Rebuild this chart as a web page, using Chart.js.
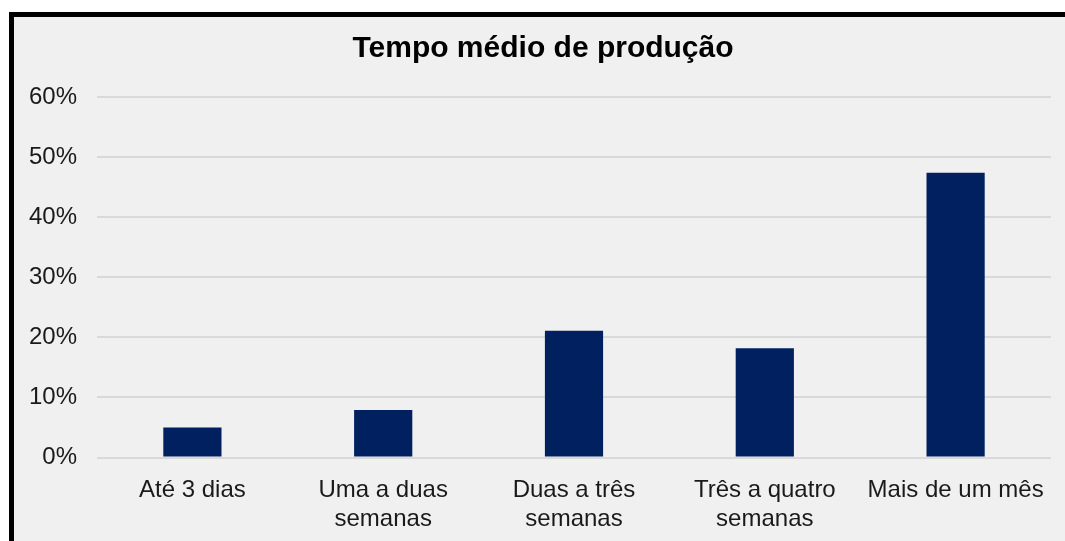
<!DOCTYPE html>
<html>
<head>
<meta charset="utf-8">
<script src="https://cdn.jsdelivr.net/npm/chart.js@4/dist/chart.umd.min.js"></script>
<style>
  html, body { margin: 0; padding: 0; background: #fff; overflow: hidden; width: 1065px; height: 541px; }
  .box {
    position: absolute; left: 9px; top: 12px;
    width: 1058px; height: 540px;
    border: 5px solid #000; border-right: none; border-bottom: none;
    background: #f0f0f0;
  }
  canvas { display: block; }
</style>
</head>
<body>
<div class="box"><canvas id="chart" width="1058" height="524"></canvas></div>
<script>
// Tempo médio de produção (% de respostas)
const chartTitle = 'Tempo médio de produção';
const categories = [
  ['Até 3 dias'],
  ['Uma a duas', 'semanas'],
  ['Duas a três', 'semanas'],
  ['Três a quatro', 'semanas'],
  ['Mais de um mês']
];
const values = [5.0, 7.9, 21.1, 18.2, 47.4];
const yTicks = [0, 10, 20, 30, 40, 50, 60];

const font = "'Liberation Sans', Arial, sans-serif";

// title centred on the whole frame, not on the plot
const titlePlugin = {
  id: 'frameTitle',
  afterDraw(chart) {
    const c = chart.ctx;
    c.save();
    c.font = 'bold 30px ' + font;
    c.fillStyle = '#000';
    c.textAlign = 'center';
    c.textBaseline = 'alphabetic';
    c.fillText(chartTitle, chart.width / 2, 40);
    c.restore();
  }
};

const ctx = document.getElementById('chart').getContext('2d');
new Chart(ctx, {
  type: 'bar',
  data: {
    labels: categories,
    datasets: [{
      data: values,
      backgroundColor: '#002060',
      borderWidth: 0,
      barPercentage: 0.305,
      categoryPercentage: 1
    }]
  },
  plugins: [titlePlugin],
  options: {
    responsive: false,
    animation: false,
    layout: { padding: { left: 0, right: 21, top: 80, bottom: 0 } },
    plugins: {
      legend: { display: false },
      tooltip: { enabled: false },
      title: { display: false }
    },
    scales: {
      y: {
        min: 0,
        max: yTicks[yTicks.length - 1],
        afterBuildTicks: (scale) => { scale.ticks = yTicks.map(v => ({ value: v })); },
        afterFit: (scale) => { scale.width = 83; },
        border: { display: false },
        grid: { color: '#d9d9d9', lineWidth: 2, drawTicks: false },
        ticks: {
          padding: 20,
          color: '#1a1a1a',
          font: { family: font, size: 24 },
          callback: (v) => v + '%'
        }
      },
      x: {
        afterFit: (scale) => { scale.height = 83.5; },
        border: { display: false },
        grid: { display: false, drawTicks: false },
        ticks: {
          padding: 19,
          color: '#1a1a1a',
          maxRotation: 0,
          autoSkip: false,
          font: { family: font, size: 24, lineHeight: 1.18 }
        }
      }
    }
  }
});
</script>
</body>
</html>
